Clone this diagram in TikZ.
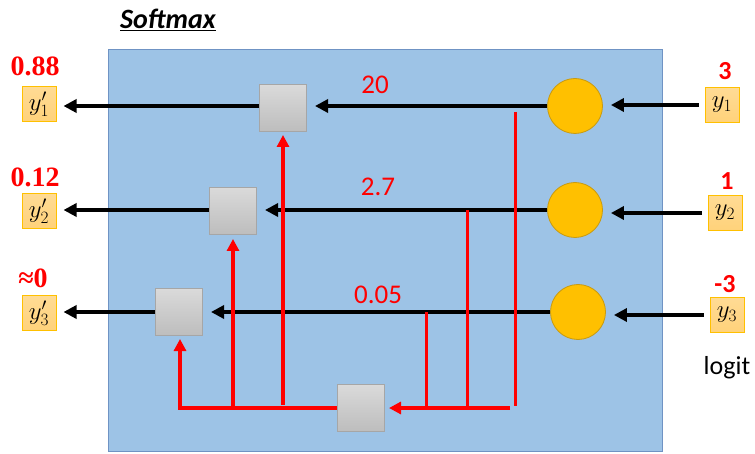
\documentclass[tikz,border=0pt]{standalone}
\usepackage{fontspec}
\setmainfont{Carlito}
\newfontfamily\serifb{Liberation Serif}
\usetikzlibrary{arrows.meta}
\definecolor{bluebg}{HTML}{9DC3E6}
\definecolor{blueline}{HTML}{6F93C4}
\definecolor{ofill}{HTML}{FFD27A}
\definecolor{oline}{HTML}{FFC000}
\definecolor{gold}{HTML}{FFC000}
\definecolor{goldline}{HTML}{C89A10}
\definecolor{gtop}{HTML}{DADADA}
\definecolor{gbot}{HTML}{BDBDBD}
\definecolor{gline}{HTML}{A6A6A6}
\definecolor{myred}{HTML}{FF0000}
\begin{document}
\begin{tikzpicture}[x=1pt,y=-1pt,
  gbox/.style={draw=gline,line width=1pt,top color=gtop,bottom color=gbot,minimum size=47pt,inner sep=0pt},
  obox/.style={draw=oline,line width=1pt,top color=ofill!80!white,bottom color=ofill,minimum width=34pt,minimum height=35pt,inner sep=0pt,font=\fontsize{24}{24}\selectfont},
  circ/.style={circle,draw=goldline,line width=0.8pt,fill=gold,minimum size=55pt,inner sep=0pt},
  blk/.style={line width=4pt,-{Triangle[length=13pt,width=13pt]}},
  redl/.style={draw=myred,line width=3pt},
  redarr/.style={draw=myred,line width=3.5pt,-{Triangle[length=12pt,width=12pt]}},
  wlab/.style={text=myred,font=\fontsize{27}{27}\selectfont},
  outlab/.style={text=myred,font=\serifb\bfseries\fontsize{28}{28}\selectfont,inner sep=1pt},
  inlab/.style={text=myred,font=\bfseries\fontsize{26}{26}\selectfont,inner sep=1pt}]
\useasboundingbox (0,0) rectangle (755,454);
\fill[white] (0,0) rectangle (755,454);
\draw[fill=bluebg,draw=blueline,line width=1pt] (108,50) rectangle (662,451);
\node[font=\bfseries\itshape\fontsize{28}{28}\selectfont] (title) at (168,20) {\underline{Softmax}};
% outputs
\node[obox] (o1) at (39,104) {$y'_1$};
\node[obox] (o2) at (39,211) {$y'_2$};
\node[obox] (o3) at (39,313) {$y'_3$};
\node[outlab] (l1) at (35,66) {0.88};
\node[outlab] (l2) at (35,177) {0.12};
\node[outlab] (l3) at (33,278) {≈0};
% inputs
\node[obox] (i1) at (722,105) {$y_1$};
\node[obox] (i2) at (725,213) {$y_2$};
\node[obox] (i3) at (727,315) {$y_3$};
\node[inlab] (n1) at (725,71) {3};
\node[inlab] (n2) at (727,181) {1};
\node[inlab] (n3) at (725,284) {-3};
\node[font=\fontsize{26}{26}\selectfont] (logit) at (727,368) {logit};
% circles
\node[circ] (c1) at (575,106) {};
\node[circ] (c2) at (575,210) {};
\node[circ] (c3) at (578,312) {};
% gray boxes
\node[gbox] (g1) at (283,108) {};
\node[gbox] (g2) at (233,211) {};
\node[gbox] (g3) at (179,312) {};
\node[gbox] (g4) at (361,408) {};
% weights
\node[wlab] (w1) at (375,85) {20};
\node[wlab] (w2) at (378,187) {2.7};
\node[wlab] (w3) at (378,295) {0.05};
% black arrows
\draw[blk,shorten <=6pt,shorten >=8pt] (i1.west) -- (c1.east |- i1.west);
\draw[blk,shorten <=6pt,shorten >=8pt] (i2.west) -- (c2.east |- i2.west);
\draw[blk,shorten <=6pt,shorten >=8pt] (i3.west) -- (c3.east |- i3.west);
\draw[blk,shorten >=8pt] (c1.west) -- (g1.east |- c1.west);
\draw[blk,shorten >=8pt] (c2.west) -- (g2.east |- c2.west);
\draw[blk,shorten >=8pt] (c3.west) -- (g3.east |- c3.west);
\draw[blk,shorten >=7pt] (g1.west |- c1.west) -- (o1.east |- c1.west);
\draw[blk,shorten >=7pt] (g2.west |- c2.west) -- (o2.east |- c2.west);
\draw[blk,shorten >=7pt] (g3.west) -- (o3.east |- g3.west);
% red taps
\coordinate (t1) at (515,112);
\coordinate (t2) at (467,210);
\coordinate (t3) at (426,312);
\coordinate (b1) at (515,406);
\coordinate (b2) at (467,408);
\coordinate (b3) at (426,408);
\draw[redl] (t1) -- (b1);
\draw[redl] (t2) -- (b2);
\draw[redl] (t3) -- (b3);
\draw[redarr,shorten >=4pt] (510,408) -- (g4.east);
\coordinate (lc) at (180,408);
\draw[redarr,shorten >=3pt] (g4.west) -- (lc) -- (g3.south -| lc);
\coordinate (u2) at (233,408);
\draw[redarr,shorten >=4pt] (u2) -- (g2.south);
\coordinate (u1) at (283,405);
\draw[redarr,shorten >=3pt] (u1) -- (g1.south);
\end{tikzpicture}
\end{document}
